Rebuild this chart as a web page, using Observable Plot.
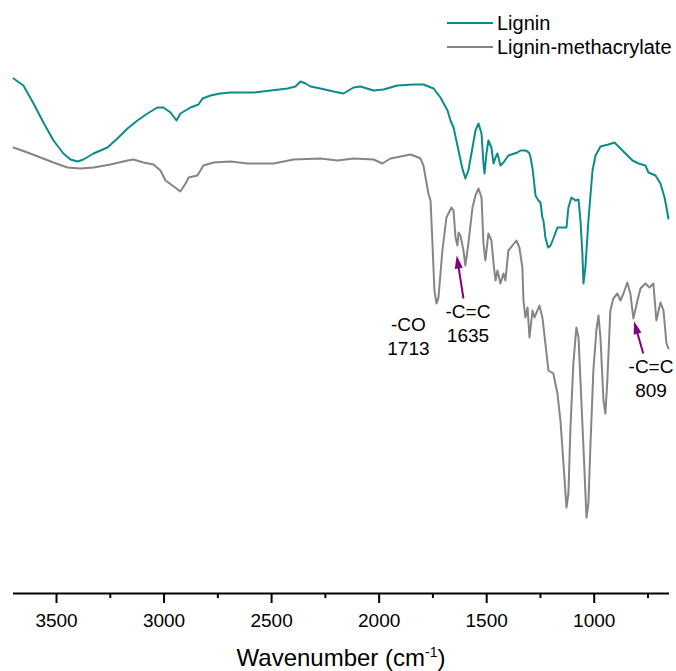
<!DOCTYPE html>
<html><head><meta charset="utf-8">
<script src="https://cdn.jsdelivr.net/npm/d3@7"></script>
<script src="https://cdn.jsdelivr.net/npm/@observablehq/plot@0.6"></script>
<style>
body{margin:0;background:#fff}
#wrap{position:relative;width:676px;height:671px;font-family:Arial,"Liberation Sans",sans-serif;color:#000}
.leg{position:absolute;left:447px;height:24px;display:flex;align-items:center;font-size:20px;white-space:nowrap}
.leg span.sw{display:inline-block;width:46px;height:0;border-top:2px solid;margin-right:4px}
#title{position:absolute;left:0;width:676px;padding-left:6px;box-sizing:border-box;text-align:center;top:646px;font-size:24px;line-height:24px}
#title sup{font-size:14px;line-height:0;vertical-align:9px}
</style>
</head><body><div id="wrap"></div>
<script>
// Series names / colours
const seriesNames = ["Lignin", "Lignin-methacrylate"];
// Lignin spectrum (wavenumber cm-1, transmittance a.u.)
const wnLignin = [3700,3654,3607,3561,3514,3468,3435,3402,3375,3328,3263,3217,3170,3124,3077,3031,3003,2970,2942,2924,2877,2840,2821,2784,2738,2691,2584,2426,2389,2366,2342,2319,2273,2212,2166,2119,2087,2026,1980,1915,1840,1794,1747,1715,1682,1668,1654,1631,1613,1599,1585,1566,1552,1538,1524,1515,1510,1501,1492,1478,1468,1459,1450,1436,1422,1399,1357,1343,1320,1310,1301,1296,1287,1282,1273,1268,1259,1250,1241,1236,1227,1217,1213,1203,1190,1171,1143,1129,1120,1106,1087,1073,1064,1055,1050,1041,1027,1008,994,971,934,906,878,855,822,794,762,748,715,692,673,664,655];
const tLignin = [103.0,101.6,98.0,94.2,90.6,88.0,86.8,86.4,86.8,88.0,89.2,91.0,93.0,94.6,96.0,97.2,97.2,96.2,94.6,96.0,97.2,97.8,99.0,99.6,100.0,100.2,100.2,101.0,101.4,102.4,102.0,101.4,101.0,100.4,100.0,101.2,101.4,100.6,100.8,101.6,101.8,101.8,101.0,99.2,96.6,94.6,93.2,88.6,85.0,83.0,84.6,89.2,92.6,94.0,92.0,86.0,84.0,88.0,90.6,89.2,86.0,87.2,88.0,85.6,86.2,87.6,88.2,88.6,88.6,88.4,88.0,87.2,85.0,83.2,79.6,79.2,78.6,78.2,75.2,74.6,71.2,69.6,69.2,69.6,71.0,73.2,73.2,73.2,77.2,79.2,78.6,78.8,74.6,68.0,62.0,65.2,74.6,84.6,87.6,89.4,89.8,90.2,89.0,88.0,86.6,86.0,85.6,84.2,83.6,82.0,79.2,77.2,75.0];
// Lignin-methacrylate spectrum
const wnLM = [3700,3635,3574,3514,3449,3389,3328,3249,3170,3142,3096,3049,3017,2993,2961,2924,2900,2886,2845,2817,2770,2691,2612,2491,2398,2273,2194,2119,2026,1985,1947,1854,1817,1808,1794,1771,1761,1752,1743,1733,1724,1706,1687,1664,1654,1645,1636,1631,1622,1608,1599,1585,1566,1552,1538,1524,1515,1506,1492,1478,1468,1459,1450,1436,1422,1413,1399,1380,1362,1348,1334,1329,1320,1310,1301,1287,1278,1264,1255,1241,1227,1213,1190,1171,1157,1143,1129,1120,1111,1097,1083,1073,1064,1050,1036,1027,1018,1004,990,980,971,957,948,939,925,911,892,878,864,846,832,818,799,785,762,743,725,711,692,678,664,655];
const tLM = [89.2,88.2,87.2,86.2,85.2,85.0,85.2,85.8,86.6,86.8,86.2,85.8,84.6,82.6,81.6,80.4,82.0,83.2,83.6,85.6,86.2,86.4,86.0,86.0,86.8,87.0,86.6,87.0,86.8,86.0,87.0,87.8,87.2,87.0,85.6,80.0,78.6,70.0,60.6,58.0,59.2,68.6,75.2,77.2,76.6,71.2,69.6,72.2,71.6,68.6,65.6,70.0,77.2,79.6,81.0,79.2,70.0,66.6,72.0,70.6,66.0,62.6,64.6,62.0,64.0,62.6,68.6,69.6,70.6,69.2,65.2,58.6,55.2,57.2,51.2,56.6,55.2,56.6,57.6,55.2,50.0,44.6,44.0,40.0,34.6,26.0,17.2,20.0,32.6,46.0,53.2,51.2,42.6,29.2,15.2,18.0,29.2,44.6,52.6,55.6,51.2,38.6,36.0,42.6,56.6,59.0,60.0,58.6,60.0,62.2,60.0,55.0,58.6,61.0,62.0,61.2,62.0,54.6,58.2,56.6,50.0,49.0];
// Tick labels
const majorTicks = [3500,3000,2500,2000,1500,1000];
const minorTicks = [3250,2750,2250,1750,1250,750];
// Annotations
const annLabels = ["-CO\n1713", "-C=C\n1635", "-C=C\n809"];
const annLabelX = [1864, 1587, 736];
const annLabelY = [51.6, 54.3, 43.3];
const arrowHeadX = [1633, 804];
const arrowHeadY = [65.9, 52.8];
const arrowTailX = [1608, 772];
const arrowTailY = [59.0, 48.0];

const colors = ["#0b8b8b", "#858585"];
const purple = "#800080";

const W = 676, H = 640, mL = 13, mR = 7, mT = 43, mB = 47;
const xDomain = [3700, 650], yDomain = [0, 110];

const spectra = [
  ...wnLignin.map((w, i) => ({w, t: tLignin[i], s: seriesNames[0]})),
  ...wnLM.map((w, i) => ({w, t: tLM[i], s: seriesNames[1]}))
];
const labels = annLabels.map((text, i) => ({text, x: annLabelX[i], y: annLabelY[i]}));
const xs = d3.scaleLinear(xDomain, [mL, W - mR]);
const ys = d3.scaleLinear(yDomain, [H - mB, mT]);
const arrows = arrowHeadX.map((x, i) => {
  const dx = xs(x) - xs(arrowTailX[i]);
  const dy = ys(arrowHeadY[i]) - ys(arrowTailY[i]);
  return {x1: arrowTailX[i], y1: arrowTailY[i], x2: x, y2: arrowHeadY[i], rot: Math.atan2(dx, -dy) * 180 / Math.PI};
});
// narrow arrow-head symbol (tip pointing up, centred on centroid)
const arrowHead = {
  draw(ctx, size) {
    const h = Math.sqrt(size) * 1.6, w = h * 0.62;
    ctx.moveTo(0, -h * 2 / 3);
    ctx.lineTo(w / 2, h / 3);
    ctx.lineTo(-w / 2, h / 3);
    ctx.closePath();
  }
};

const chart = Plot.plot({
  width: W, height: H,
  marginLeft: mL, marginRight: mR, marginTop: mT, marginBottom: mB,
  style: {fontFamily: 'Arial, "Liberation Sans", sans-serif', background: "#fff", color: "#000"},
  x: {domain: xDomain},
  y: {domain: yDomain, axis: null},
  color: {domain: seriesNames, range: colors},
  marks: [
    Plot.line(spectra, {x: "w", y: "t", z: "s", stroke: "s", strokeWidth: 2, curve: "linear"}),
    Plot.axisX({ticks: majorTicks, tickSize: 10, tickPadding: 10, fontSize: 19, strokeWidth: 2, label: null, tickFormat: d => String(d)}),
    Plot.axisX({ticks: minorTicks, tickSize: 5, strokeWidth: 2, text: null, label: null}),
    Plot.ruleY([0], {strokeWidth: 2}),
    Plot.link(arrows, {x1: "x1", y1: "y1", x2: "x2", y2: "y2", stroke: purple, strokeWidth: 2}),
    Plot.dot(arrows, {x: "x2", y: "y2", symbol: arrowHead, r: 4.6, fill: purple, stroke: null, rotate: "rot"}),
    Plot.text(labels, {x: "x", y: "y", text: "text", fontSize: 19, lineHeight: 1.26, fill: "#000"})
  ]
});

const wrap = document.getElementById("wrap");
chart.style.position = "absolute";
chart.style.left = "0px";
chart.style.top = "0px";
wrap.appendChild(chart);

seriesNames.forEach((name, i) => {
  const d = document.createElement("div");
  d.className = "leg";
  d.style.top = (11 + i * 24) + "px";
  const sw = document.createElement("span");
  sw.className = "sw";
  sw.style.borderTopColor = colors[i];
  d.appendChild(sw);
  d.appendChild(document.createTextNode(name));
  wrap.appendChild(d);
});

const title = document.createElement("div");
title.id = "title";
title.innerHTML = "Wavenumber (cm<sup>-1</sup>)";
wrap.appendChild(title);
</script>
</body></html>
